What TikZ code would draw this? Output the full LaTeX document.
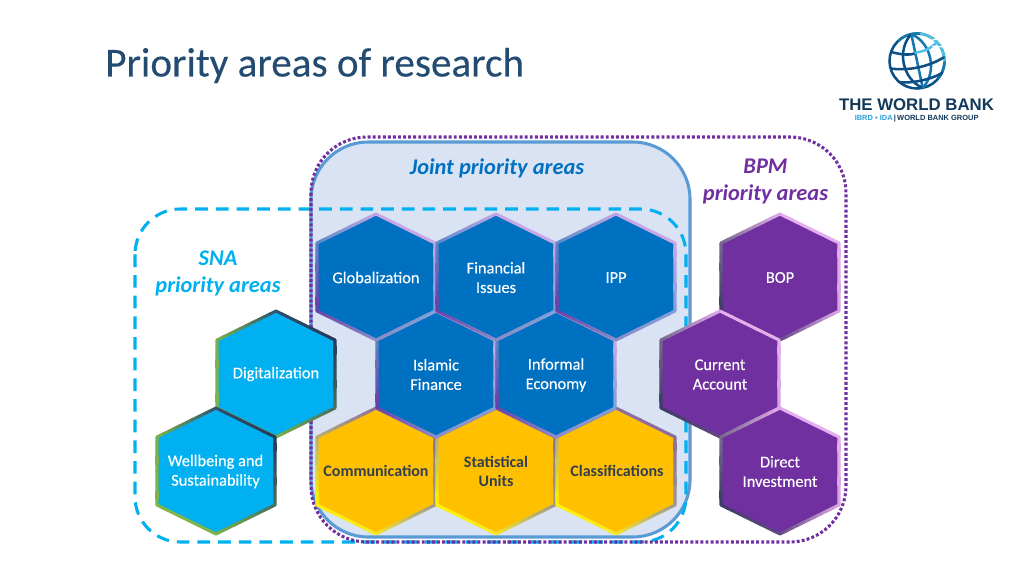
\documentclass[tikz,border=0pt]{standalone}
\usepackage{fontspec}
\setmainfont{Carlito}
\newfontfamily\labelfont[FakeBold=0.25]{Carlito}
\newfontfamily\logofont{Liberation Sans}
\usetikzlibrary{calc}
\definecolor{titleblue}{HTML}{244C73}
\definecolor{jointfill}{HTML}{DAE3F3}
\definecolor{jointline}{HTML}{5B9BD5}
\definecolor{snablue}{HTML}{00B0F0}
\definecolor{bpmpurple}{HTML}{7030A0}
\definecolor{jointblue}{HTML}{0070C0}
\definecolor{hexpurple}{HTML}{7030A0}
\definecolor{hexyellow}{HTML}{FFC000}
\definecolor{darktext}{HTML}{333F50}
\definecolor{bA}{HTML}{C6A6E6}\definecolor{bB}{HTML}{C9A8E8}\definecolor{bC}{HTML}{7F9FD8}
\definecolor{bD}{HTML}{8A8CC8}\definecolor{bE}{HTML}{6A3FA5}\definecolor{bF}{HTML}{5F8ACB}
\definecolor{cA}{HTML}{2F4F6F}\definecolor{cB}{HTML}{25395C}\definecolor{cC}{HTML}{4A7060}
\definecolor{cD}{HTML}{7DB54A}\definecolor{cE}{HTML}{7DB54A}\definecolor{cF}{HTML}{78AE50}
\definecolor{yA}{HTML}{8C6FA0}\definecolor{yB}{HTML}{8D6C9C}\definecolor{yC}{HTML}{A09A90}
\definecolor{yD}{HTML}{F5E82A}\definecolor{yE}{HTML}{FFF200}\definecolor{yF}{HTML}{B8AC78}
\definecolor{pA}{HTML}{E5AEEE}\definecolor{pB}{HTML}{E5AEEE}\definecolor{pC}{HTML}{D9A2E4}
\definecolor{pD}{HTML}{5F4A80}\definecolor{pE}{HTML}{3F3A6A}\definecolor{pF}{HTML}{7A6A90}
\definecolor{globeA}{HTML}{0B4F84}\definecolor{globeB}{HTML}{1479AE}\definecolor{globeC}{HTML}{53C1E6}
\definecolor{logonavy}{HTML}{12395B}\definecolor{logocyan}{HTML}{2C9FD8}
\tikzset{
  hexlabel/.style={align=center,font=\labelfont\fontsize{12.3}{14.6}\selectfont,inner sep=0pt,text=white},
  yellowlabel/.style={hexlabel,text=darktext,font=\fontsize{12}{14.6}\selectfont\bfseries},
  headlabel/.style={align=center,font=\fontsize{16.8}{20.5}\selectfont\bfseries\itshape,inner sep=0pt},
  globeline/.style={line width=1.9pt,line cap=round},
}
% one edge of a hexagon, its colour running from #3 to #4
\newcommand\hexedge[4]{%
  \foreach \k [evaluate=\k as \m using {int(100-\k*10)},evaluate=\k as \f using {\k/10},evaluate=\k as \g using {(\k+1)/10}] in {0,...,9}{
    \draw[line width=2.3pt,line cap=round,color=#3!\m!#4] ($(#1)!\f!(#2)$) -- ($(#1)!\g!(#2)$);
  }}
% name, cx, cy, fill, palette letter
\newcommand\hexa[5]{%
  \coordinate (#1T) at (#2,#3-63);
  \coordinate (#1R) at (#2+59,#3-34);
  \coordinate (#1S) at (#2+59,#3+34);
  \coordinate (#1B) at (#2,#3+63);
  \coordinate (#1L) at (#2-59,#3+34);
  \coordinate (#1U) at (#2-59,#3-34);
  \fill[#4] (#1T)--(#1R)--(#1S)--(#1B)--(#1L)--(#1U)--cycle;
  \hexedge{#1T}{#1R}{#5A}{#5B}
  \hexedge{#1R}{#1S}{#5B}{#5C}
  \hexedge{#1S}{#1B}{#5C}{#5D}
  \hexedge{#1B}{#1L}{#5D}{#5E}
  \hexedge{#1L}{#1U}{#5E}{#5F}
  \hexedge{#1U}{#1T}{#5F}{#5A}
}
\begin{document}
\begin{tikzpicture}[x=0.75pt,y=-0.75pt]
\useasboundingbox (0,0) rectangle (1024,576);
\fill[white] (0,0) rectangle (1024,576);
% title
\node[anchor=west,inner sep=0pt,text=titleblue,font=\labelfont\fontsize{30.9}{36}\selectfont] (title) at (105,65.5) {Priority areas of research};
% containers
\draw[fill=jointfill,draw=jointline,line width=2.3pt,rounded corners=43pt] (311,142) rectangle (690,537);
\draw[draw=snablue,line width=2.3pt,dash pattern=on 9.5pt off 6pt,rounded corners=34pt] (135,209) rectangle (686,542);
\draw[draw=bpmpurple,line width=2.3pt,dash pattern=on 2.2pt off 1.6pt,rounded corners=42pt] (311,137) rectangle (846,542);
% headings
\node[headlabel,text=jointblue] (jointhead) at (497,168) {Joint priority areas};
\node[headlabel,text=bpmpurple] (bpmhead) at (765.5,181.5) {BPM\\priority areas};
\node[headlabel,text=snablue] (snahead) at (218,273.5) {SNA\\priority areas};
% hexagons
\hexa{c}{376}{471}{hexyellow}{y}
\hexa{s}{496}{471}{hexyellow}{y}
\hexa{l}{616}{471}{hexyellow}{y}
\hexa{m}{436}{374}{jointblue}{b}
\hexa{e}{556}{374}{jointblue}{b}
\hexa{g}{376}{277}{jointblue}{b}
\hexa{f}{496}{277}{jointblue}{b}
\hexa{i}{616}{277}{jointblue}{b}
\hexa{o}{780}{277}{hexpurple}{p}
\hexa{d}{276}{374}{snablue}{c}
\hexa{a}{720}{374}{hexpurple}{p}
\hexa{w}{216}{471}{snablue}{c}
\hexa{v}{780}{471}{hexpurple}{p}
% labels
\node[hexlabel] (tg) at (376,277.5) {Globalization};
\node[hexlabel] (tf) at (496,277.5) {Financial\\Issues};
\node[hexlabel] (ti) at (616,277.5) {IPP};
\node[hexlabel] (to) at (780,277.5) {BOP};
\node[hexlabel] (td) at (276,374) {Digitalization};
\node[hexlabel] (tm) at (436,374.5) {Islamic\\Finance};
\node[hexlabel] (te) at (556,375) {Informal\\Economy};
\node[hexlabel] (ta) at (720,374.5) {Current\\Account};
\node[hexlabel] (tw) at (215.5,471.5) {Wellbeing and\\Sustainability};
\node[yellowlabel] (tc) at (376,471) {Communication};
\node[yellowlabel] (ts) at (496,471.5) {Statistical\\Units};
\node[yellowlabel] (tl) at (617,471) {Classifications};
\node[hexlabel] (tv) at (780,471.5) {Direct\\Investment};
% logo: globe
\begin{scope}[shift={(917,61)},rotate=12]
  \draw[globeline,color=globeA] (0,0) circle (27.5);
  \draw[globeline,color=globeB] (-120:27.5) arc (-120:-70:27.5);
  \draw[globeline,color=globeC] (-70:27.5) arc (-70:15:27.5);
  \draw[globeline,color=globeB] (15:27.5) arc (15:50:27.5);
  \draw[globeline,color=globeB] (0,-27.5) -- (0,27.5);
  \draw[globeline,color=globeA] (0,-27.5) .. controls (-18,-15) and (-18,15) .. (0,27.5);
  \draw[globeline,color=globeB] (0,-27.5) .. controls (18,-15) and (18,15) .. (0,27.5);
  \draw[globeline,color=globeA] (-23,-14) .. controls (-10,-7) and (0,-7) .. (0,-8.5);
  \draw[globeline,color=globeC] (0,-8.5) .. controls (10,-8) and (15,-9) .. (23,-14);
  \draw[globeline,color=globeA] (-27,2) .. controls (-10,8) and (10,8) .. (27,2);
  \draw[globeline,color=globeA] (-22,17) .. controls (-10,21) and (10,21) .. (22,17);
  \draw[white,line width=0.9pt] (-52:21) -- (-35:31);
  \draw[white,line width=0.9pt] (-32:21) -- (-15:31);
\end{scope}
% logo: text
\node[inner sep=0pt,text=logonavy,font=\logofont\fontsize{12.6}{14}\selectfont\bfseries] (wb) at (916.5,104.5) {THE WORLD BANK};
\node[inner sep=0pt,anchor=west,font=\logofont\fontsize{5.6}{7}\selectfont\bfseries] (wbsub) at (854.5,119) {\textcolor{logocyan}{IBRD • IDA}\,\textcolor{logonavy}{|\,WORLD BANK GROUP}};
\end{tikzpicture}
\end{document}
